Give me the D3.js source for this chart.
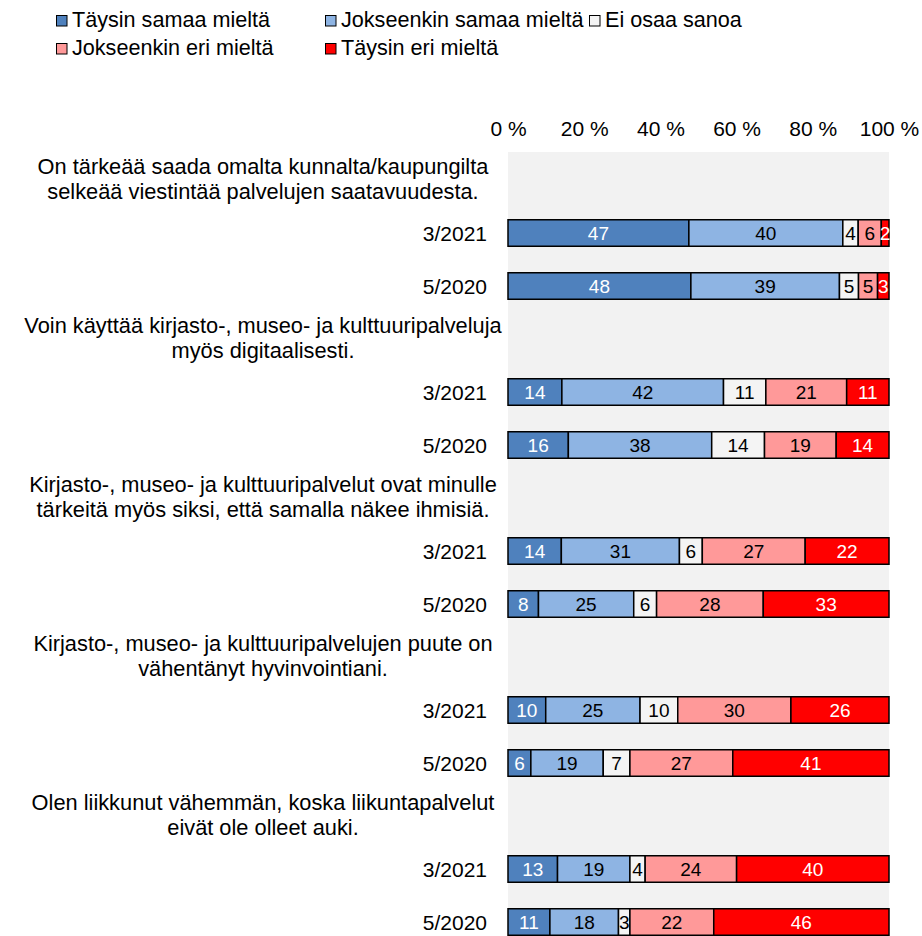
<!DOCTYPE html>
<html>
<head>
<meta charset="utf-8">
<script src="https://cdn.jsdelivr.net/npm/d3@7"></script>
<style>
  body { margin: 0; background: #fff; }
  text { font-family: "Liberation Sans", Arial, sans-serif; }
</style>
</head>
<body>
<div id="chart"></div>
<script>
// answer categories (legend order = stack order)
const answers = ["Täysin samaa mieltä", "Jokseenkin samaa mieltä", "Ei osaa sanoa",
  "Jokseenkin eri mieltä", "Täysin eri mieltä"];
const colors = ["#4F81BD", "#8EB4E3", "#F4F4F4", "#FF9999", "#FF0000"];
const labelColors = ["#fff", "#000", "#000", "#000", "#fff"];

const questions = [
  ["On tärkeää saada omalta kunnalta/kaupungilta", "selkeää viestintää palvelujen saatavuudesta."],
  ["Voin käyttää kirjasto-, museo- ja kulttuuripalveluja", "myös digitaalisesti."],
  ["Kirjasto-, museo- ja kulttuuripalvelut ovat minulle", "tärkeitä myös siksi, että samalla näkee ihmisiä."],
  ["Kirjasto-, museo- ja kulttuuripalvelujen puute on", "vähentänyt hyvinvointiani."],
  ["Olen liikkunut vähemmän, koska liikuntapalvelut", "eivät ole olleet auki."]
];
const periods = ["3/2021", "5/2020"];

// values per question: [3/2021, 5/2020]
const values2021 = [
  [47, 40, 4, 6, 2],
  [14, 42, 11, 21, 11],
  [14, 31, 6, 27, 22],
  [10, 25, 10, 30, 26],
  [13, 19, 4, 24, 40]
];
const values2020 = [
  [48, 39, 5, 5, 3],
  [16, 38, 14, 19, 14],
  [8, 25, 6, 28, 33],
  [6, 19, 7, 27, 41],
  [11, 18, 3, 22, 46]
];
const tickValues = [0, 20, 40, 60, 80, 100];

const width = 922, height = 936;
const svg = d3.select("#chart").append("svg")
  .attr("width", width)
  .attr("height", height);

// slots: heading row + one row per period
let slots = [];
let rows = [];
questions.forEach((q, i) => {
  slots.push("q" + i);
  [values2021[i], values2020[i]].forEach((vals, j) => {
    let key = "q" + i + "p" + j;
    slots.push(key);
    rows.push({key: key, period: periods[j], vals: vals});
  });
});

let step = 53;
let plotTop = 153.5;
let y = d3.scaleBand()
  .domain(slots)
  .range([plotTop, plotTop + step * slots.length])
  .paddingInner(0.5)
  .paddingOuter(0.25);

let x = d3.scaleLinear()
  .domain([0, 100])
  .range([508, 889]);

// plot background
svg.append("rect")
  .attr("x", x(0))
  .attr("y", 152)
  .attr("width", x(100) - x(0))
  .attr("height", height - 152)
  .attr("fill", "#F2F2F2");

// top axis
let axis = svg.append("g")
  .attr("transform", "translate(0,136)")
  .call(d3.axisTop(x).tickValues(tickValues).tickSize(0).tickFormat(d => d + " %"));
axis.select(".domain").remove();
axis.selectAll("text")
  .attr("dy", 0)
  .attr("y", 0)
  .style("font-size", "21px")
  .style("font-family", "Liberation Sans, Arial, sans-serif")
  .attr("fill", "#000");

// question headings
questions.forEach((q, i) => {
  let cy = y("q" + i) + y.bandwidth() / 2;
  q.forEach((line, k) => {
    svg.append("text")
      .attr("x", 263)
      .attr("y", cy - 6 + k * 24.5)
      .attr("text-anchor", "middle")
      .style("font-size", "21.8px")
      .text(line);
  });
});

// bars
rows.forEach((r) => {
  let total = d3.sum(r.vals);
  let acc = 0;
  let segs = r.vals.map((v, k) => {
    let s = {v: v, k: k, x0: acc / total * 100, x1: (acc + v) / total * 100};
    acc += v;
    return s;
  });
  let cy = y(r.key) + y.bandwidth() / 2;

  svg.append("text")
    .attr("x", 487)
    .attr("y", cy + 7.5)
    .attr("text-anchor", "end")
    .style("font-size", "21px")
    .text(r.period);

  let g = svg.append("g");
  g.selectAll("rect")
    .data(segs)
    .enter()
    .append("rect")
    .attr("x", d => x(d.x0))
    .attr("y", y(r.key))
    .attr("width", d => x(d.x1) - x(d.x0))
    .attr("height", y.bandwidth())
    .attr("fill", d => colors[d.k])
    .attr("stroke", "#000")
    .attr("stroke-width", 1.5);

  g.selectAll("text")
    .data(segs)
    .enter()
    .append("text")
    .attr("x", d => (x(d.x0) + x(d.x1)) / 2)
    .attr("y", cy + 7)
    .attr("text-anchor", "middle")
    .style("font-size", "19px")
    .attr("fill", d => labelColors[d.k])
    .text(d => d.v);
});

// legend
let legendPos = [[56, 27], [325, 27], [589, 27], [56, 55], [325, 55]];
answers.forEach((a, i) => {
  let p = legendPos[i];
  svg.append("rect")
    .attr("x", p[0] + 0.5)
    .attr("y", p[1] - 11.5)
    .attr("width", 10.5)
    .attr("height", 10.5)
    .attr("fill", colors[i])
    .attr("stroke", "#000")
    .attr("stroke-width", 1);
  svg.append("text")
    .attr("x", p[0] + 16)
    .attr("y", p[1])
    .style("font-size", "21.6px")
    .text(a);
});
</script>
</body>
</html>
